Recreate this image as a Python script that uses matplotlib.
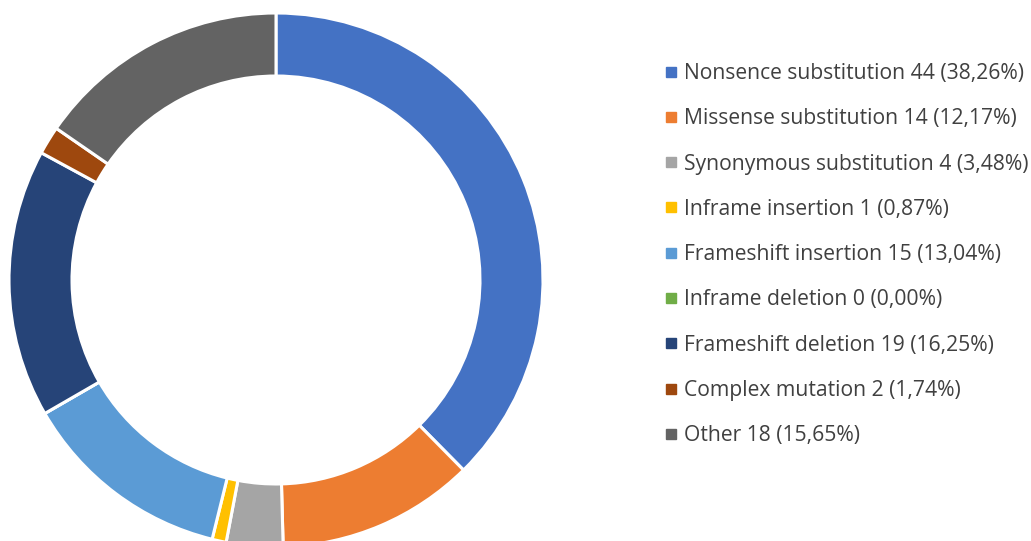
import matplotlib
matplotlib.use("Agg")
import matplotlib.pyplot as plt
from matplotlib.lines import Line2D

# mutation types, counts and the percentages as printed in the source
categories = [
    "Nonsence substitution", "Missense substitution", "Synonymous substitution",
    "Inframe insertion", "Frameshift insertion", "Inframe deletion",
    "Frameshift deletion", "Complex mutation", "Other",
]
counts = [44, 14, 4, 1, 15, 0, 19, 2, 18]
percents = ["38,26%", "12,17%", "3,48%", "0,87%", "13,04%", "0,00%",
            "16,25%", "1,74%", "15,65%"]
colors = ["#4472C4", "#ED7D31", "#A5A5A5", "#FFC000", "#5B9BD5",
          "#70AD47", "#264478", "#9E480E", "#636363"]

plt.rcParams["font.family"] = ["Open Sans", "DejaVu Sans"]

W, H = 1031, 541
fig = plt.figure(figsize=(W / 100, H / 100), dpi=100)

# donut: centre (276, 280) px from top-left, outer radius 267 px
cx, cy, r = 276, 280, 267
ax = fig.add_axes([(cx - r) / W, (H - cy - r) / H, 2 * r / W, 2 * r / H])
ax.pie(counts, colors=colors, startangle=90, counterclock=False, radius=1,
       wedgeprops=dict(width=0.236, edgecolor="white", linewidth=2.2))
ax.set_xlim(-1, 1)
ax.set_ylim(-1, 1)
ax.set_aspect("equal")
ax.axis("off")

labels = [f"{c} {n} ({p})" for c, n, p in zip(categories, counts, percents)]
handles = [Line2D([], [], marker="s", linestyle="", markersize=6.5,
                  markerfacecolor=col, markeredgecolor=col) for col in colors]
leg = fig.legend(handles, labels, loc="upper left",
                 bbox_to_anchor=(666 / W, 1 - 63 / H), frameon=False,
                 fontsize=15.2, labelspacing=1.15, handlelength=0.5,
                 handletextpad=0.35, borderpad=0, borderaxespad=0)
for t in leg.get_texts():
    t.set_color("#404040")

fig.savefig("out.png", dpi=100)
